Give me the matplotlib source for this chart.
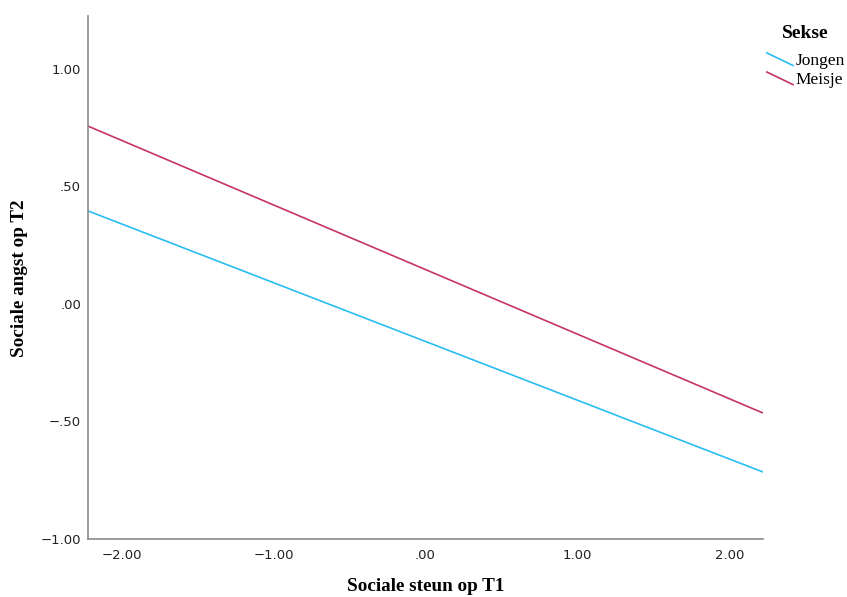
import matplotlib
matplotlib.use("Agg")
import matplotlib.pyplot as plt
import numpy as np
from matplotlib.legend_handler import HandlerLine2D
from matplotlib.lines import Line2D

# Data
x_range = [-2.22, 2.22]
series_names = ["Jongen", "Meisje"]
jongen_y = [0.396, -0.715]
meisje_y = [0.757, -0.464]
x_ticks = [-2.0, -1.0, 0.0, 1.0, 2.0]
x_ticklabels = ["\u22122.00", "\u22121.00", ".00", "1.00", "2.00"]
y_ticks = [-1.0, -0.5, 0.0, 0.5, 1.0]
y_ticklabels = ["\u22121.00", "\u2212.50", ".00", ".50", "1.00"]

colors = {"Jongen": "#2bbdf2", "Meisje": "#c5336b"}

fig = plt.figure(figsize=(8.47, 5.97), dpi=100)
ax = fig.add_axes([0.1039, 0.0972, 0.9008 - 0.1039, 0.9732 - 0.0972])

for name, ys in zip(series_names, [jongen_y, meisje_y]):
    ax.plot(x_range, ys, color=colors[name], lw=1.2, label=name, solid_capstyle="butt")

ax.set_xlim(x_range)
ax.set_ylim(-1.0, 1.2255)
ax.set_xticks(x_ticks)
ax.set_xticklabels(x_ticklabels)
ax.set_yticks(y_ticks)
ax.set_yticklabels(y_ticklabels)
ax.tick_params(length=0, labelsize=9.5, colors="#222222")
ax.tick_params(axis="x", pad=7)
ax.tick_params(axis="y", pad=5)

for s in ["top", "right"]:
    ax.spines[s].set_visible(False)
for s in ["left", "bottom"]:
    ax.spines[s].set_color("#8a8a8a")
    ax.spines[s].set_linewidth(1.2)

ax.set_xlabel("Sociale steun op T1", fontfamily="Liberation Serif", fontweight="bold",
              fontsize=13.8)
ax.set_ylabel("Sociale angst op T2", fontfamily="Liberation Serif", fontweight="bold",
              fontsize=13.8)
# place labels: x label center at (426, 587) px, y label center at (19, 278) px
ax_w = (0.9008 - 0.1039) * 847
ax_h = (0.9732 - 0.0972) * 597
ax.xaxis.set_label_coords((426 - 88) / ax_w, -(587 - 539) / ax_h)
ax.xaxis.label.set_va("center")
ax.yaxis.set_label_coords(-(88 - 19) / ax_w, (539 - 278) / ax_h)
ax.yaxis.label.set_va("center")


class DiagHandler(HandlerLine2D):
    def create_artists(self, legend, orig_handle, xdescent, ydescent, width, height,
                       fontsize, trans):
        line = Line2D([-xdescent, -xdescent + width],
                      [-ydescent + height * 1.05, -ydescent - height * 0.05])
        self.update_prop(line, orig_handle, legend)
        line.set_transform(trans)
        return [line]


handles, labels = ax.get_legend_handles_labels()
leg = fig.legend(handles, labels, loc="upper left", bbox_to_anchor=(766 / 847, 1 - 25 / 597),
                 frameon=False, title="Sekse", handlelength=1.6, handletextpad=0.12,
                 labelspacing=0.17, borderaxespad=0, borderpad=0,
                 prop={"family": "Liberation Serif", "size": 12.5},
                 handler_map={Line2D: DiagHandler()})
leg.get_title().set_fontfamily("Liberation Serif")
leg.get_title().set_fontweight("bold")
leg.get_title().set_fontsize(14)
leg._legend_box.sep = 8

fig.savefig("out.png", dpi=100)
